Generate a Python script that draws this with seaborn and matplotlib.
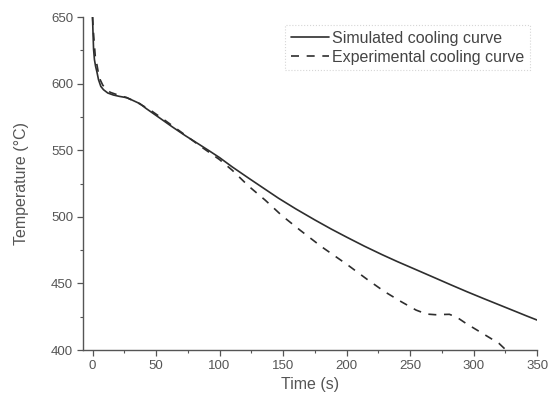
import matplotlib
matplotlib.use("Agg")
import matplotlib.pyplot as plt
from matplotlib.ticker import MultipleLocator
import seaborn as sns
import pandas as pd

# Simulated cooling curve (time in s, temperature in °C)
sim_time = [0, 0.3, 0.8, 1.5, 2.4, 3.4, 4.7, 6.5, 8.6, 12, 16.4, 21, 26.9,
            31.6, 37.3, 42, 52.5, 62.9, 73, 83.8, 92, 100, 110, 123, 135,
            146.4, 160, 175, 188, 200, 214, 228, 240, 256, 270, 282, 295, 308,
            321, 334, 342, 350]
sim_temp = [650, 640, 626, 618, 613, 609, 603, 598, 595.5, 593, 591.5, 590.5,
            589.5, 587.5, 585, 581.5, 574.5, 567.5, 561, 554.5, 549.5, 544.5,
            537.5, 529, 521.3, 514, 506, 497.7, 490.8, 484.8, 478, 471.6,
            466.4, 459.8, 454, 449, 443.7, 438.6, 433.6, 428.6, 425.5, 422.5]

# Experimental cooling curve
exp_time = [0, 0.6, 2.1, 3.5, 4.7, 6, 8, 10.5, 14, 20, 27, 35, 45, 57.7,
            70.7, 85, 100, 110, 123, 136, 149, 163.4, 180.4, 201, 217, 230,
            243, 254.7, 263, 270, 281, 287, 294, 307, 320, 325, 327]
exp_temp = [650, 640, 621, 614, 607.5, 603, 599, 596, 593.5, 591.5, 589.5,
            586, 580.5, 572, 563, 553, 543, 535, 523, 512.5, 501, 490, 477.5,
            463.8, 452.5, 443.8, 436.3, 430, 427, 426.5, 426.8, 424.5, 420,
            412.5, 405, 400.5, 399]

labels = ["Simulated cooling curve", "Experimental cooling curve"]

sns.set_style("ticks")
plt.rcParams["font.family"] = ["Liberation Sans", "DejaVu Sans"]

sim = pd.DataFrame({"Time (s)": sim_time, "Temperature": sim_temp})
exp = pd.DataFrame({"Time (s)": exp_time, "Temperature": exp_temp})

fig = plt.figure(figsize=(5.48, 3.98), dpi=100)
ax = fig.add_axes([0.1515, 0.1206, 0.8285, 0.8364])

line_color = "#2e2e2e"
sns.lineplot(data=sim, x="Time (s)", y="Temperature", ax=ax, color=line_color,
             lw=1.2, label=labels[0], sort=False)
sns.lineplot(data=exp, x="Time (s)", y="Temperature", ax=ax, color=line_color,
             lw=1.2, label=labels[1], sort=False)
ax.lines[1].set_dashes((4.8, 4.6))

ax.set_xlim(-7.5, 350)
ax.set_ylim(400, 650)
ax.xaxis.set_major_locator(MultipleLocator(50))
ax.xaxis.set_minor_locator(MultipleLocator(25))
ax.yaxis.set_major_locator(MultipleLocator(50))
ax.yaxis.set_minor_locator(MultipleLocator(25))

for side in ("top", "right"):
    ax.spines[side].set_visible(False)
for side in ("left", "bottom"):
    ax.spines[side].set_color("#555555")
    ax.spines[side].set_linewidth(1.0)

ax.tick_params(axis="both", which="major", direction="out", length=4,
               width=0.9, color="#555555", labelsize=9.5, labelcolor="#555555",
               pad=3)
ax.tick_params(axis="both", which="minor", direction="out", length=2.5,
               width=0.8, color="#555555")

ax.set_xlabel("Time (s)", fontsize=11.5, color="#555555", labelpad=4)
ax.set_ylabel("Temperature (°C)", fontsize=11.5, color="#555555", labelpad=16)

leg = ax.legend(loc="upper right", bbox_to_anchor=(530 / 548, 1 - 25 / 398),
                bbox_transform=fig.transFigure, borderaxespad=0,
                fontsize=11.5, frameon=True, fancybox=False, handlelength=2.4,
                handletextpad=0.2, borderpad=0.35, labelspacing=0.25)
leg.get_frame().set_edgecolor("#cccccc")
leg.get_frame().set_linestyle(":")
leg.get_frame().set_linewidth(0.8)
for t in leg.get_texts():
    t.set_color("#444444")

fig.savefig("out.png", dpi=100)
